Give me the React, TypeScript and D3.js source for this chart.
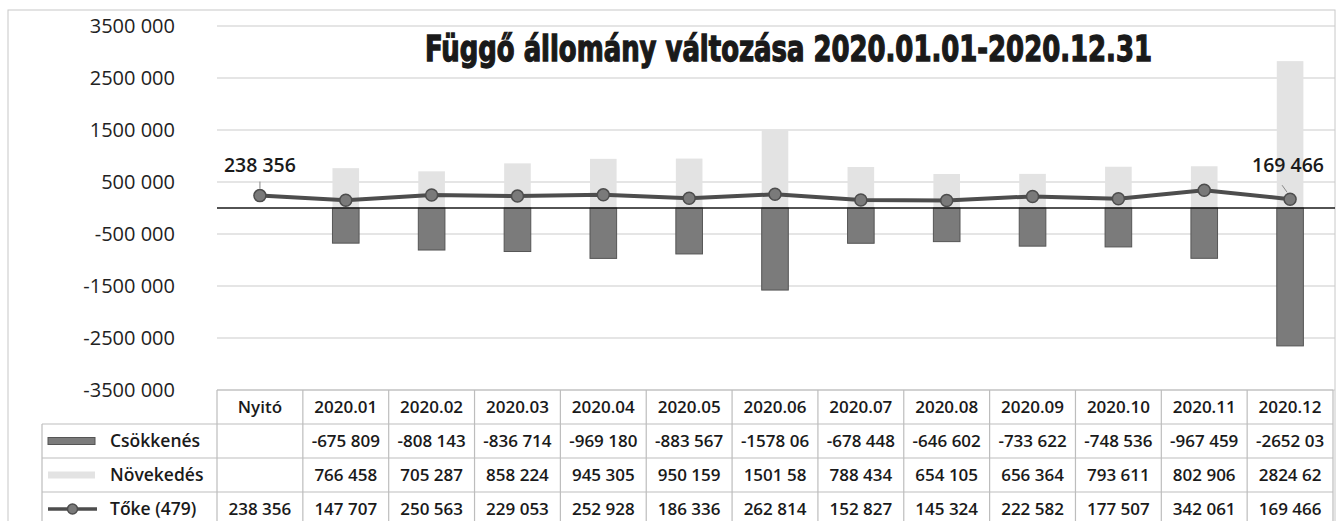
import React from "react";
import * as d3 from "d3";

const categories = ["Nyitó", "2020.01", "2020.02", "2020.03", "2020.04", "2020.05", "2020.06", "2020.07", "2020.08", "2020.09", "2020.10", "2020.11", "2020.12"];
const csokkenes: (number | null)[] = [null, -675809, -808143, -836714, -969180, -883567, -1578060, -678448, -646602, -733622, -748536, -967459, -2652030];
const novekedes: (number | null)[] = [null, 766458, 705287, 858224, 945305, 950159, 1501580, 788434, 654105, 656364, 793611, 802906, 2824620];
const toke: number[] = [238356, 147707, 250563, 229053, 252928, 186336, 262814, 152827, 145324, 222582, 177507, 342061, 169466];
const yTicks = [3500000, 2500000, 1500000, 500000, -500000, -1500000, -2500000, -3500000];
const seriesNames = ["Csökkenés", "Növekedés", "Tőke (479)"];
const title = "Függő állomány változása 2020.01.01-2020.12.31";

const W = 1338;
const H = 521;

function fmt(v: number): string {
  const a = Math.abs(Math.round(v));
  const s = a >= 1000 ? `${Math.floor(a / 1000)} ${String(a % 1000).padStart(3, "0")}` : `${a}`;
  return (v < 0 ? "-" : "") + s;
}
// table cells are too narrow for 7-digit numbers: last digit gets cut off
function fmtCell(v: number | null): string {
  if (v == null) return "";
  const s = fmt(v);
  return Math.abs(v) >= 1000000 ? s.slice(0, -1) : s;
}

const FONT = "'Open Sans', 'Noto Sans', sans-serif";
const DARK = "#7b7b7b";
const DARK_EDGE = "#555";
const LIGHT = "#e3e3e3";
const LINE = "#4d4d4d";

export default function App() {
  const x = d3.scaleBand<string>().domain(categories).range([217, 1333]).padding(0);
  const y = d3.scaleLinear().domain([-3500000, 3500000]).range([390, 26]);
  const bw = x.bandwidth();
  const barW = bw * 0.31;
  const cx = (c: string) => (x(c) as number) + bw / 2;

  const line = d3
    .line<number>()
    .x((_, i) => cx(categories[i]))
    .y((d) => y(d));

  const rowTops = [390, 424, 458, 492, 526];
  const tableLeft = 42;
  const rowVals = [csokkenes, novekedes, toke];

  const first = toke[0];
  const last = toke[toke.length - 1];

  return (
    <svg width={W} height={H} style={{ position: "absolute", left: 0, top: 0, background: "#fff" }}>
      <rect x={8} y={10} width={1327} height={520} fill="#fff" stroke="#c8c8c8" strokeWidth={1} />
      {/* gridlines */}
      {yTicks.map((t) => (
        <line key={t} x1={217} x2={1335} y1={y(t)} y2={y(t)} stroke="#cbcbcb" strokeWidth={1.2} />
      ))}
      {/* y labels */}
      {yTicks.map((t) => (
        <text key={"l" + t} x={175} y={y(t)} dy="0.35em" textAnchor="end" fontFamily={FONT} fontSize={20} fill="#222">
          {fmt(t)}
        </text>
      ))}
      {/* title */}
      <text
        x={425}
        y={61}
        fontFamily="'DejaVu Sans Condensed', 'DejaVu Sans', sans-serif"
        fontWeight="bold"
        fontSize={36}
        textLength={727}
        lengthAdjust="spacingAndGlyphs"
        fill="#1a1a1a"
        stroke="#1a1a1a"
        strokeWidth={1.3}
        style={{ fontStretch: "condensed" }}
      >
        {title}
      </text>
      {/* bars */}
      {categories.map((c, i) =>
        novekedes[i] != null ? (
          <rect key={"n" + c} x={cx(c) - barW / 2} y={y(novekedes[i] as number)} width={barW} height={y(0) - y(novekedes[i] as number)} fill={LIGHT} />
        ) : null
      )}
      {categories.map((c, i) =>
        csokkenes[i] != null ? (
          <rect key={"c" + c} x={cx(c) - barW / 2} y={y(0)} width={barW} height={y(csokkenes[i] as number) - y(0)} fill={DARK} stroke={DARK_EDGE} strokeWidth={1} />
        ) : null
      )}
      {/* zero line */}
      <line x1={217} x2={1335} y1={y(0)} y2={y(0)} stroke="#1a1a1a" strokeWidth={1.6} />
      {/* line series */}
      <path d={line(toke) || ""} fill="none" stroke={LINE} strokeWidth={4} />
      {toke.map((v, i) => (
        <circle key={"p" + i} cx={cx(categories[i])} cy={y(v)} r={6} fill="#7a7a7a" stroke={LINE} strokeWidth={1.5} />
      ))}
      {/* data labels */}
      <line x1={cx(categories[0])} x2={cx(categories[0])} y1={y(first) - 14} y2={y(first) - 7} stroke="#888" strokeWidth={1} />
      <text x={cx(categories[0])} y={165} dy="0.35em" textAnchor="middle" fontFamily={FONT} fontWeight={600} fontSize={19.5} fill="#1a1a1a">
        {fmt(first)}
      </text>
      <line x1={cx(categories[12]) - 8} x2={cx(categories[12]) - 3} y1={y(last) - 14} y2={y(last) - 7} stroke="#888" strokeWidth={1} />
      <text x={1288} y={165} dy="0.35em" textAnchor="middle" fontFamily={FONT} fontWeight={600} fontSize={19.5} fill="#1a1a1a">
        {fmt(last)}
      </text>
      {/* table */}
      <g stroke="#bdbdbd" strokeWidth={1.2}>
        <line x1={217} x2={1333} y1={rowTops[0]} y2={rowTops[0]} />
        {rowTops.slice(1, 4).map((t) => (
          <line key={"h" + t} x1={tableLeft} x2={1333} y1={t} y2={t} />
        ))}
        <line x1={tableLeft} x2={tableLeft} y1={rowTops[1]} y2={H} />
        {categories.map((c) => (
          <line key={"v" + c} x1={x(c) as number} x2={x(c) as number} y1={rowTops[0]} y2={H} />
        ))}
        <line x1={1333} x2={1333} y1={rowTops[0]} y2={H} />
      </g>
      {categories.map((c) => (
        <text key={"hd" + c} x={cx(c)} y={(rowTops[0] + rowTops[1]) / 2} dy="0.35em" textAnchor="middle" fontFamily={FONT} fontWeight={600} fontSize={17} fill="#1a1a1a">
          {c}
        </text>
      ))}
      {rowVals.map((vals, r) =>
        categories.map((c, i) => (
          <text key={"cell" + r + c} x={cx(c)} y={(rowTops[r + 1] + rowTops[r + 2]) / 2} dy="0.35em" textAnchor="middle" fontFamily={FONT} fontWeight={600} fontSize={17} fill="#1a1a1a">
            {fmtCell(vals[i] as number | null)}
          </text>
        ))
      )}
      {/* legend keys */}
      {seriesNames.map((n, r) => {
        const my = (rowTops[r + 1] + rowTops[r + 2]) / 2;
        return (
          <g key={"lg" + n}>
            {r === 0 && <rect x={48} y={my - 3.5} width={47} height={7} fill={DARK} stroke={DARK_EDGE} strokeWidth={1} />}
            {r === 1 && <rect x={48} y={my - 3.5} width={47} height={7} fill={LIGHT} />}
            {r === 2 && (
              <g>
                <line x1={48} x2={97} y1={my} y2={my} stroke={LINE} strokeWidth={3.5} />
                <circle cx={72.5} cy={my} r={5} fill="#7a7a7a" stroke={LINE} strokeWidth={1.5} />
              </g>
            )}
            <text x={110} y={my} dy="0.35em" fontFamily={FONT} fontWeight={600} fontSize={17.5} fill="#1a1a1a">
              {n}
            </text>
          </g>
        );
      })}
    </svg>
  );
}
